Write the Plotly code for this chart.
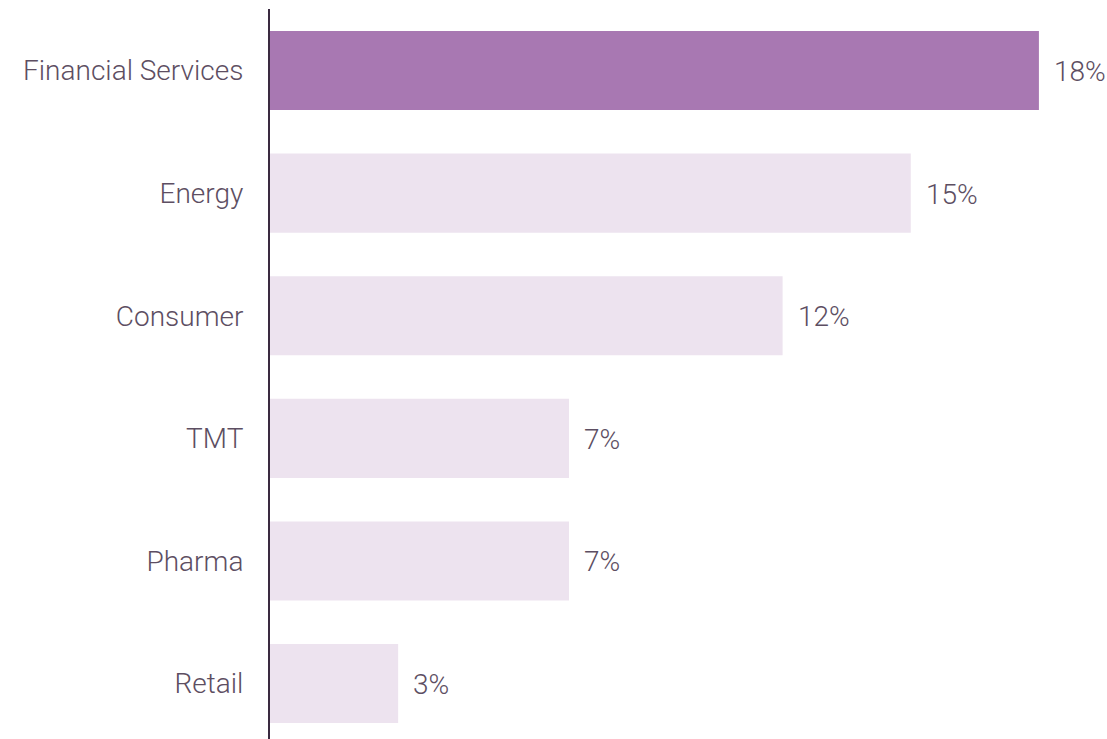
import plotly.graph_objects as go

# Sector shares (%)
sectors = ["Financial Services", "Energy", "Consumer", "TMT", "Pharma", "Retail"]
shares = [18, 15, 12, 7, 7, 3]
highlight = "Financial Services"

PURPLE = "#a878b2"
LIGHT = "#ede3ef"
TEXT = "#5d4e62"
AXIS = "#3a2a40"
FONT = "Roboto"
SIZE = 28

colors = [PURPLE if s == highlight else LIGHT for s in sectors]

fig = go.Figure(
    go.Bar(
        x=shares,
        y=sectors,
        orientation="h",
        marker=dict(color=colors, line=dict(width=0)),
        width=0.645,
        hoverinfo="skip",
    )
)

for s, v in zip(sectors, shares):
    fig.add_annotation(
        x=v, y=s, text=f"{v}%", showarrow=False,
        xanchor="left", xshift=13, yshift=-1,
        font=dict(family=FONT, size=SIZE, color=TEXT, weight=300),
    )

fig.update_layout(
    width=1107, height=739,
    margin=dict(l=270, r=4, t=9, b=0),
    paper_bgcolor="white", plot_bgcolor="white",
    showlegend=False,
    font=dict(family=FONT, size=SIZE, color=TEXT, weight=300),
    xaxis=dict(range=[0, 19.5], visible=False, showgrid=False, zeroline=False),
    yaxis=dict(
        type="category",
        categoryorder="array", categoryarray=sectors,
        range=[5.452, -0.502],
        showline=True, linecolor=AXIS, linewidth=2,
        showgrid=False, zeroline=False,
        ticks="", ticklabelstandoff=19,
        tickfont=dict(family=FONT, size=SIZE, color=TEXT, weight=300),
    ),
)

fig.write_html("out.html")
